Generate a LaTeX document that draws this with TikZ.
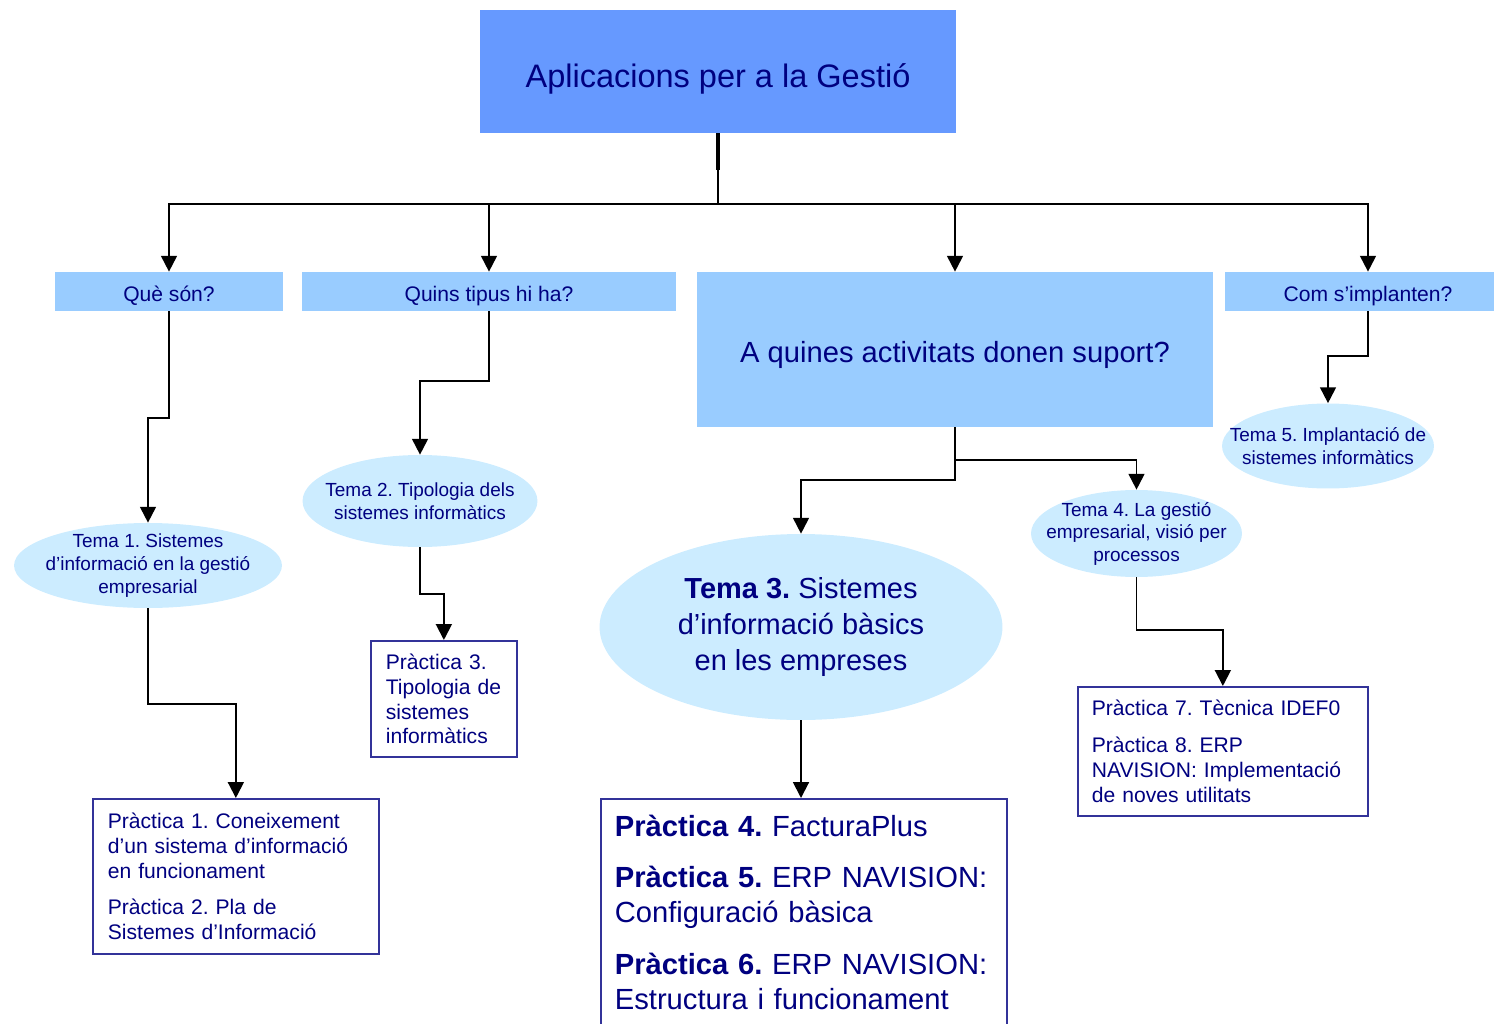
\documentclass[tikz,border=0pt]{standalone}
\usepackage{fontspec}
\setmainfont{Liberation Sans}
\usetikzlibrary{arrows.meta}
\usetikzlibrary{shapes.geometric}
\definecolor{navy}{HTML}{000080}
\definecolor{rootblue}{HTML}{6699FF}
\definecolor{askblue}{HTML}{99CCFF}
\definecolor{temablue}{HTML}{CCECFF}
\definecolor{boxline}{HTML}{333399}
\tikzset {
  % title box on top
  titlebox/.style = {fill=rootblue, text=navy, minimum width=9.52cm, minimum height=2.46cm,
    text height=0.8cm, text depth=0.15cm, font=\fontsize{18.5}{22}\selectfont},
  % question boxes
  ask/.style = {fill=askblue, text=navy, minimum height=0.78cm, inner ysep=0pt,
    text height=0.47cm, text depth=0.07cm, font=\fontsize{12}{14}\selectfont},
  % the "Tema" ellipses (negative sep so the minimum size wins)
  tema/.style = {ellipse, fill=temablue, text=navy, inner xsep=-1.2cm, inner ysep=-0.6cm,
    align=center, font=\fontsize{10.8}{13}\selectfont},
  % the "Practica" boxes
  practica/.style = {draw=boxline, line width=1pt, fill=white, text=navy, anchor=north west,
    align=left, inner xsep=0.3cm, font=\fontsize{12}{14.2}\selectfont},
  % connectors
  conn/.style = {-{Triangle[width=9pt,length=9pt]}, line width=1.1pt},
}

\begin{document}
\frenchspacing
\begin{tikzpicture}[x=0.02cm, y=-0.02cm]
  \useasboundingbox (0,0) rectangle (1494,1024);

  \node[titlebox] (root) at (718,71.5) {Aplicacions per a la Gestió};

  \node[ask, minimum width=4.56cm] (que) at (169,291.5) {Què són?};
  \node[ask, minimum width=7.48cm] (quins) at (489,291.5) {Quins tipus hi ha?};
  \node[ask, minimum width=10.32cm, minimum height=3.1cm, text height=0.62cm, text depth=0.1cm,
    font=\fontsize{16.6}{20}\selectfont] (act) at (955,349.5) {A quines activitats donen suport?};
  \node[ask, minimum width=5.72cm] (com) at (1368,291.5) {Com s'implanten?};

  \node[tema, minimum width=5.36cm, minimum height=1.7cm] (t1) at (148,565.5)
    {Tema 1. Sistemes\\d'informació en la gestió\\empresarial};
  \node[tema, minimum width=4.7cm, minimum height=1.84cm] (t2) at (420,501)
    {Tema 2. Tipologia dels\\sistemes informàtics};
  \node[tema, minimum width=8.06cm, minimum height=3.72cm, font=\fontsize{16.5}{20.4}\selectfont]
    (t3) at (801,627) {\textbf{Tema 3.} Sistemes\\d'informació bàsics\\en les empreses};
  \node[tema, minimum width=4.22cm, minimum height=1.74cm, font=\fontsize{10.8}{12.8}\selectfont]
    (t4) at (1136.5,533.5) {Tema 4. La gestió\\empresarial, visió per\\processos};
  \node[tema, minimum width=4.24cm, minimum height=1.7cm] (t5) at (1328,446)
    {Tema 5. Implantació de\\sistemes informàtics};

  \node[practica, text width=5.12cm, minimum height=3.1cm] (p1) at (92,798)
    {Pràctica 1. Coneixement\\d'un sistema d'informació\\en funcionament\\[6.8pt]
     Pràctica 2. Pla de\\Sistemes d'Informació};
  \node[practica, text width=2.32cm, minimum height=2.32cm] (p3) at (370,640)
    {Pràctica 3.\\Tipologia de\\sistemes\\informàtics};
  \node[practica, text width=7.56cm, inner xsep=0.28cm, inner ysep=0.32cm,
    font=\fontsize{16.6}{19.8}\selectfont] (p4) at (600,798)
    {\textbf{Pràctica 4.} FacturaPlus\\[9.6pt]
     \textbf{Pràctica 5.} ERP NAVISION:\\Configuració bàsica\\[9.6pt]
     \textbf{Pràctica 6.} ERP NAVISION:\\Estructura i funcionament};
  \node[practica, text width=5.24cm, inner xsep=0.28cm, minimum height=2.58cm,
    font=\fontsize{12}{14.5}\selectfont] (p7) at (1077,686)
    {Pràctica 7. Tècnica IDEF0\\[6.5pt]Pràctica 8. ERP\\NAVISION: Implementació\\de noves utilitats};

  % tree on top
  \draw[line width=1.8pt] (root.south) -- (root.south |- 0,170) coordinate (stem);
  \draw[line width=1.1pt] (stem) -- (root.south |- 0,204) coordinate (bus);
  \draw[conn] (bus) -| (que.north);
  \draw[conn] (bus) -| (quins.north);
  \draw[conn] (bus) -| (act.north);
  \draw[conn] (bus) -| (com.north);

  % questions to temes
  \draw[conn] (que.south) -- (que.south |- 0,418) -| (t1.north);
  \draw[conn] (quins.south) -- (quins.south |- 0,381) -| (t2.north);
  \draw[conn] (act.south) -- (act.south |- 0,480) -| (t3.north);
  \draw[conn] (act.south |- 0,460) -| (t4.north);
  \draw[conn] (com.south) -- (com.south |- 0,356) -| (t5.north);

  % temes to practiques
  \draw[conn] (t1.south) -- (t1.south |- 0,704) -| (p1.north);
  \draw[conn] (t2.south) -- (t2.south |- 0,594) -| (p3.north);
  \draw[conn] (t3.south) -- (t3.south |- p4.north);
  \draw[conn] (t4.south) -- (t4.south |- 0,630) -| (p7.north);
\end{tikzpicture}
\end{document}
